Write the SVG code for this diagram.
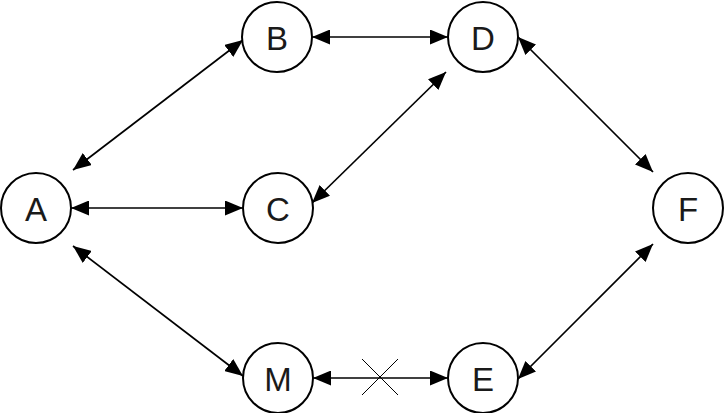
<svg xmlns="http://www.w3.org/2000/svg" width="724" height="413" viewBox="0 0 724 413">
<defs>
<marker id="ah" viewBox="0 0 18 15" refX="18" refY="7.5" markerWidth="18" markerHeight="15" markerUnits="userSpaceOnUse" orient="auto-start-reverse">
<path d="M0,0 L18,7.5 L0,15 Z" fill="#000"/>
</marker>
<style>
.n circle{fill:#fff;stroke:#000;stroke-width:2}
.n text{font-family:"Liberation Sans",Arial,sans-serif;font-size:33px;fill:#1a1a1a;text-anchor:middle;dominant-baseline:central}
.e line{stroke:#000;stroke-width:1.7;marker-start:url(#ah);marker-end:url(#ah)}
.x line{stroke:#000;stroke-width:1}
</style>
</defs>
<rect width="724" height="413" fill="#fff"/>
<g id="connectors">
<g class="e">
<line x1="73" y1="170" x2="243" y2="40"/>
<line x1="71" y1="208" x2="243" y2="208"/>
<line x1="73" y1="246" x2="243" y2="376"/>
<line x1="312" y1="37" x2="448" y2="37"/>
<line x1="312" y1="203" x2="446" y2="72"/>
<line x1="518" y1="37" x2="653" y2="172"/>
<line x1="313" y1="378" x2="448" y2="378"/>
<line x1="518" y1="379" x2="653" y2="244"/>
</g>
<g class="x">
<line x1="362" y1="359" x2="398" y2="395"/>
<line x1="398" y1="359" x2="362" y2="395"/>
</g>
</g>
<g id="A" class="n"><circle cx="36" cy="208" r="35"/><text x="36" y="209">A</text></g>
<g id="B" class="n"><circle cx="277" cy="37" r="35"/><text x="277" y="38">B</text></g>
<g id="C" class="n"><circle cx="278" cy="208" r="35"/><text x="278" y="209">C</text></g>
<g id="D" class="n"><circle cx="483" cy="37" r="35"/><text x="483" y="38">D</text></g>
<g id="F" class="n"><circle cx="688" cy="208" r="35"/><text x="688" y="209">F</text></g>
<g id="M" class="n"><circle cx="278" cy="378" r="35"/><text x="278" y="379">M</text></g>
<g id="E" class="n"><circle cx="483" cy="378" r="35"/><text x="483" y="379">E</text></g>
</svg>
